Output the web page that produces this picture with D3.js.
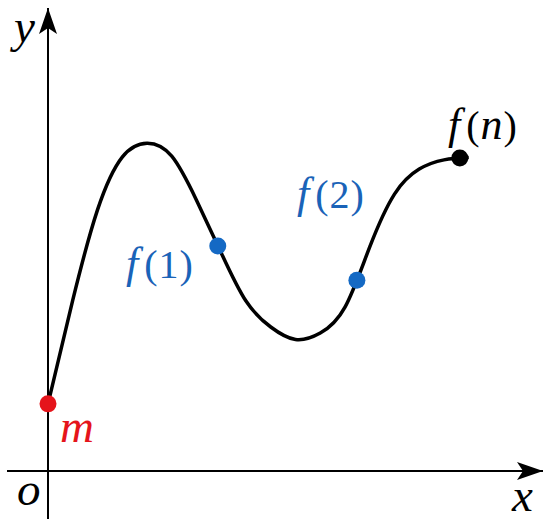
<!DOCTYPE html>
<html lang="en">
<head>
<meta charset="utf-8">
<title>f(n) curve</title>
<script src="https://d3js.org/d3.v7.min.js"></script>
<style>
  body { margin: 0; background: #fff; }
  .lbl { font-family: "Liberation Serif", "DejaVu Serif", serif; font-size: 40px; }
  .it { font-style: italic; font-size: 44px; }
  .big { font-style: italic; font-size: 47px; }
</style>
</head>
<body>
<svg id="chart" width="550" height="527"></svg>
<script>
// curve samples read at even x steps (abstract units, 0..10 on both axes)
let curveX = [0, 0.5, 1, 1.5, 2, 2.5, 3, 3.5, 4, 4.5, 5, 5.5, 6, 6.5, 7, 7.5, 8, 8.5];
let curveY = [1.45, 3.69, 5.64, 6.78, 7.08, 6.80, 5.85, 4.71, 3.67, 3.11, 2.84, 2.98, 3.54, 4.84, 5.98, 6.52, 6.72, 6.77];

// marked points
let pointNames = ["m", "f(1)", "f(2)", "f(n)"];
let pointX = [0, 3.43, 6.24, 8.32];
let pointY = [1.45, 4.86, 4.12, 6.76];
let pointColor = ["#e5141b", "#1469c4", "#1469c4", "#000"];

let svg = d3.select("#chart");

let x = d3.scaleLinear().domain([0, 10]).range([48, 543]);
let y = d3.scaleLinear().domain([0, 10]).range([471, 8]);

// arrow heads
let defs = svg.append("defs");
defs.append("marker")
    .attr("id", "arrow")
    .attr("viewBox", "0 0 26 18")
    .attr("refX", 26).attr("refY", 9)
    .attr("markerWidth", 26).attr("markerHeight", 18)
    .attr("markerUnits", "userSpaceOnUse")
    .attr("orient", "auto")
    .append("path")
    .attr("d", "M0,0 L26,9 L0,18 L6,9 Z")
    .attr("fill", "#000");

// axes
svg.append("line")
    .attr("x1", 7).attr("x2", x(10))
    .attr("y1", y(0)).attr("y2", y(0))
    .attr("stroke", "#000").attr("stroke-width", 2)
    .attr("marker-end", "url(#arrow)");

svg.append("line")
    .attr("x1", x(0)).attr("x2", x(0))
    .attr("y1", 519).attr("y2", y(10))
    .attr("stroke", "#000").attr("stroke-width", 2)
    .attr("marker-end", "url(#arrow)");

// curve (even spacing, so a natural spline is smooth in x)
let line = d3.line()
    .x(i => x(curveX[i]))
    .y(i => y(curveY[i]))
    .curve(d3.curveNatural);

svg.append("path")
    .attr("d", line(d3.range(curveX.length)))
    .attr("fill", "none")
    .attr("stroke", "#000")
    .attr("stroke-width", 3.5);

// dots
svg.selectAll("circle.pt")
    .data(d3.range(pointNames.length))
    .enter()
    .append("circle")
    .attr("class", "pt")
    .attr("cx", i => x(pointX[i]))
    .attr("cy", i => y(pointY[i]))
    .attr("r", 8.5)
    .attr("fill", i => pointColor[i]);

// labels
function label(txt, px, py, color) {
    let t = svg.append("text").attr("class", "lbl")
        .attr("x", px).attr("y", py).attr("fill", color);
    let m = txt.match(/^(\w)(\((\w)\))?$/);
    let head = t.append("tspan").text(m[1]);
    if (m[2]) {
        head.attr("class", "it");
        t.append("tspan").attr("dx", 6).text("(");
        let inner = t.append("tspan").attr("dx", 1).text(m[3]);
        if (/[a-z]/.test(m[3])) inner.attr("class", "it");
        t.append("tspan").attr("dx", 1).text(")");
    } else {
        head.attr("class", "big");
    }
}

label("f(1)", 126, 278, "#1a63b8");
label("f(2)", 297, 208, "#1a63b8");
label("f(n)", 448, 139, "#000");
label("m", 60, 442, "#e5141b");
label("y", 14, 42, "#000");
label("o", 17, 505, "#000");
label("x", 512, 511, "#000");
</script>
</body>
</html>
